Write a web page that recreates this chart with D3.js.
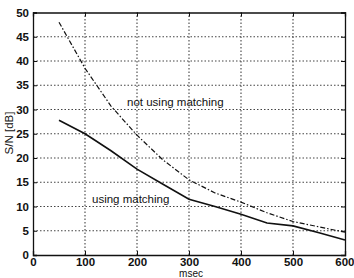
<!DOCTYPE html>
<html><head><meta charset="utf-8">
<script src="https://cdn.jsdelivr.net/npm/d3@7"></script>
<style>body{margin:0;background:#fff}svg{display:block}</style>
</head><body>
<script>
const msec = [50,100,150,200,250,300,350,400,450,500,550,600];
const usingMatching = [27.8,25.0,21.5,17.7,14.6,11.5,10.0,8.4,6.6,6.0,4.6,3.1];
const notUsingMatching = [48.0,38.5,30.7,24.7,19.6,15.5,12.8,10.9,8.7,6.9,5.8,4.7];
const xTicks = [0,100,200,300,400,500,600];
const yTicks = [0,5,10,15,20,25,30,35,40,45,50];

const W=354,H=278;
const svg=d3.select("body").append("svg").attr("width",W).attr("height",H);
const x=d3.scaleLinear().domain([0,600]).range([33,345]);
const y=d3.scaleLinear().domain([0,50]).range([255,12.5]);
const font="'Liberation Sans', Arial, sans-serif";

// grid
const g=svg.append("g");
g.selectAll("line.vg").data(xTicks.slice(1,-1)).join("line").attr("class","vg")
 .attr("x1",d=>x(d)).attr("x2",d=>x(d)).attr("y1",y(0)).attr("y2",y(50))
 .style("stroke","#444").style("stroke-width","1.1px").style("stroke-dasharray","1.5,2");
g.selectAll("line.hg").data(yTicks.slice(1,-1)).join("line").attr("class","hg")
 .attr("x1",x(0)).attr("x2",x(600)).attr("y1",d=>y(d)).attr("y2",d=>y(d))
 .style("stroke","#444").style("stroke-width","1.1px").style("stroke-dasharray","1.5,2");

// axes
const ax=svg.append("g").attr("transform",`translate(0,${y(0)})`)
 .call(d3.axisBottom(x).tickValues(xTicks).tickSize(-4).tickPadding(3).tickFormat(d3.format("d")));
const ay=svg.append("g").attr("transform",`translate(${x(0)},0)`)
 .call(d3.axisLeft(y).tickValues(yTicks).tickSize(-4).tickPadding(4).tickFormat(d3.format("d")));
const at=svg.append("g").attr("transform",`translate(0,${y(50)})`)
 .call(d3.axisTop(x).tickValues(xTicks).tickSize(-4).tickFormat(""));
const ar=svg.append("g").attr("transform",`translate(${x(600)},0)`)
 .call(d3.axisRight(y).tickValues(yTicks).tickSize(-4).tickFormat(""));
[ax,ay,at,ar].forEach(a=>{
  a.selectAll("path").attr("stroke","#111").attr("stroke-width",1.3);
  a.selectAll("line").attr("stroke","#111");
  a.selectAll("text").attr("font-family",font).attr("font-size",11.5).attr("font-weight","bold").attr("fill","#111");
});
ax.selectAll(".tick:last-of-type text").attr("text-anchor","end").attr("dx","9");

// lines
const line=d3.line().x((d,i)=>x(msec[i])).y(d=>y(d));
svg.append("path").datum(usingMatching).attr("d",line)
 .attr("fill","none").attr("stroke","#111").attr("stroke-width",1.6);
svg.append("path").datum(notUsingMatching).attr("d",line)
 .attr("fill","none").attr("stroke","#111").attr("stroke-width",1.2).attr("stroke-dasharray","5,2,1.5,2");

// labels
svg.append("text").attr("x",127).attr("y",106).text("not using matching")
 .attr("font-family",font).attr("font-size",11.5).attr("fill","#111");
svg.append("text").attr("x",92).attr("y",203).text("using matching")
 .attr("font-family",font).attr("font-size",11.5).attr("fill","#111");
svg.append("text").attr("transform","translate(13,133) rotate(-90)").attr("text-anchor","middle")
 .text("S/N [dB]").attr("font-family",font).attr("font-size",11.5).attr("fill","#111");
svg.append("text").attr("x",191).attr("y",276.5).attr("text-anchor","middle")
 .text("msec").attr("font-family",font).attr("font-size",10).attr("fill","#111");
</script>
</body></html>
